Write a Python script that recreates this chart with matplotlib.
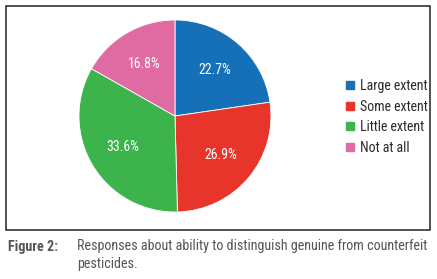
import matplotlib
matplotlib.use("Agg")
import matplotlib.pyplot as plt
from matplotlib.patches import Rectangle
from matplotlib.lines import Line2D

categories = ["Large extent", "Some extent", "Little extent", "Not at all"]
values = [22.7, 26.9, 33.6, 16.8]
colors = ["#1570b8", "#e8352b", "#3cb44b", "#e06ba2"]
caption_label = "Figure 2:"
caption_text = "Responses about ability to distinguish genuine from counterfeit\npesticides."

FONT = ["Roboto Condensed", "Archivo Narrow", "DejaVu Sans"]
plt.rcParams['font.family'] = FONT

W, H = 437, 279
fig = plt.figure(figsize=(W / 100, H / 100), dpi=100)

def fx(px):
    return px / W

def fy(py):
    return 1 - py / H

# frame
fig.patches.append(Rectangle((fx(6), fy(230)), fx(430) - fx(6), fy(6) - fy(230),
                             transform=fig.transFigure, fill=False,
                             edgecolor="#222222", linewidth=1.1))

cx, cy, r = 175, 116, 96
ax = fig.add_axes([fx(cx - r), fy(cy + r), 2 * r / W, 2 * r / H])
wedges, texts, autotexts = ax.pie(values, colors=colors, startangle=90, counterclock=False,
                                  autopct="%.1f%%", pctdistance=0.63,
                                  wedgeprops=dict(linewidth=0.6, edgecolor="white"),
                                  textprops=dict(color="white", fontsize=10))
ax.set_aspect("equal")
ax.set_xlim(-1, 1)
ax.set_ylim(-1, 1)
ax.axis("off")

handles = [Line2D([], [], marker="s", linestyle="none", markersize=6,
                  markerfacecolor=c, markeredgecolor=c) for c in colors]
fig.legend(handles, categories, loc="upper left",
           bbox_to_anchor=(fx(344), fy(79)), frameon=False, fontsize=10,
           handlelength=0.8, handletextpad=0.35, labelspacing=0.48,
           borderaxespad=0, borderpad=0, labelcolor="#2a2a2a")

lab = fig.text(fx(8), fy(247), caption_label, fontsize=11, fontweight="bold",
               color="#555555", va="center", ha="left")
cap = fig.text(fx(77), fy(239), caption_text, fontsize=11, color="#555555",
               va="top", ha="left", linespacing=1.35)

renderer = fig.canvas.get_renderer()
wpx = cap.get_window_extent(renderer).width
cap.set_fontsize(11 * 353 / wpx)
lab.set_fontsize(11 * 353 / wpx)

fig.savefig("out.png", dpi=100)
